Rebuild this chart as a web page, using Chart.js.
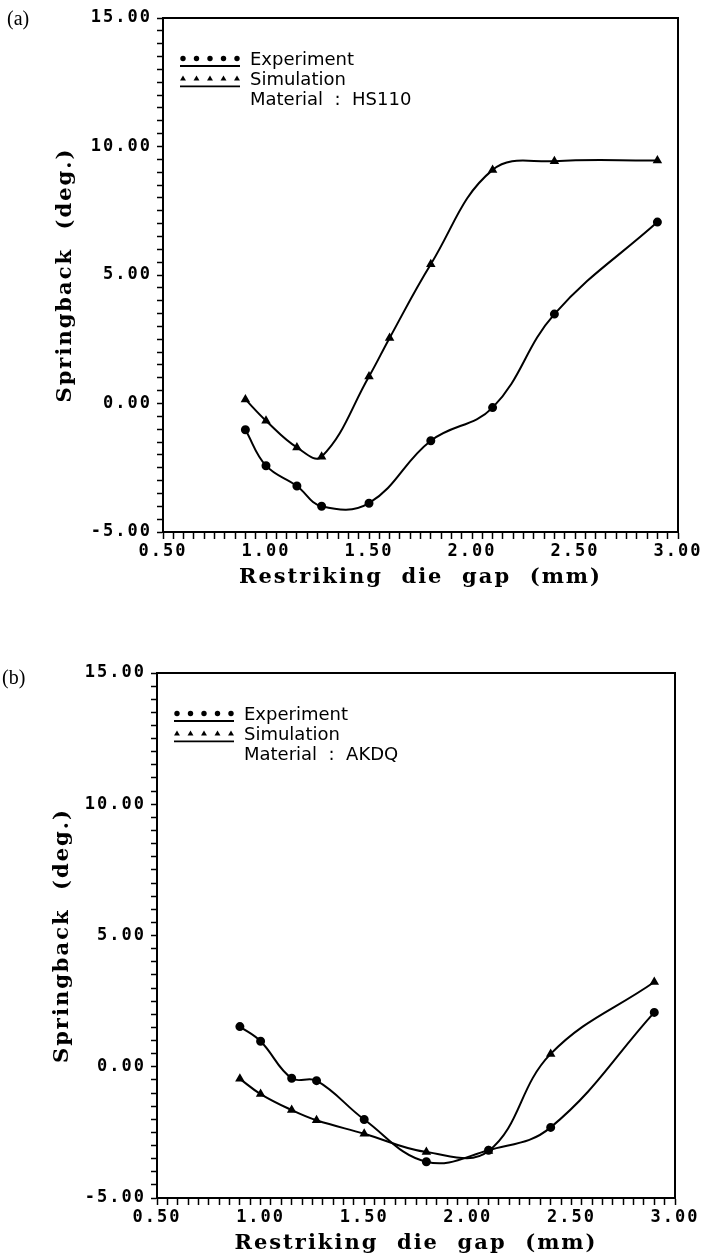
<!DOCTYPE html>
<html><head><meta charset="utf-8">
<script src="https://cdn.jsdelivr.net/npm/chart.js@4.4.1/dist/chart.umd.min.js"></script>
<style>
html,body{margin:0;padding:0;background:#fff;overflow:hidden;width:703px;height:1259px;}
#wrap{position:relative;width:703px;height:1259px;background:#fff;}
canvas{position:absolute;left:0;}
#ca{top:0;}
#cb{top:620px;}
.panel{position:absolute;font-family:"Liberation Serif",serif;font-size:20px;line-height:20px;color:#000;}
</style></head><body>
<div id="wrap">
<canvas id="ca" width="703" height="620"></canvas>
<canvas id="cb" width="703" height="639"></canvas>
<div class="panel" style="left:7px;top:8px">(a)</div>
<div class="panel" style="left:2px;top:667px">(b)</div>
</div>
<script>
// ---- data ----
const gapExpA = [0.9, 1.0, 1.15, 1.27, 1.5, 1.8, 2.1, 2.4, 2.9];
const springExpA = [-1.02, -2.42, -3.21, -4.0, -3.88, -1.45, -0.16, 3.48, 7.06];
const gapSimA = [0.9, 1.0, 1.15, 1.27, 1.5, 1.6, 1.8, 2.1, 2.4, 2.9];
const springSimA = [0.16, -0.67, -1.71, -2.07, 1.05, 2.55, 5.42, 9.09, 9.43, 9.46];

const gapB = [0.9, 1.0, 1.15, 1.27, 1.5, 1.8, 2.1, 2.4, 2.9];
const springExpB = [1.53, 0.97, -0.44, -0.53, -2.01, -3.62, -3.18, -2.31, 2.07];
const springSimB = [-0.46, -1.04, -1.65, -2.04, -2.55, -3.25, -3.21, 0.49, 3.23];

const seriesNames = ['Experiment', 'Simulation'];
const materialA = 'Material  :  HS110';
const materialB = 'Material  :  AKDQ';
const xTitle = 'Restriking  die  gap  (mm)';
const yTitle = 'Springback  (deg.)';
const xRange = [0.5, 3.0];
const yRange = [-5, 15];

function pts(xs, ys) { return xs.map((x, i) => ({x: x, y: ys[i]})); }

const framePlugin = {
  id: 'paperFrame',
  beforeDraw(chart) { chart.ctx.letterSpacing = '2px'; },
  afterDraw(chart, args, opts) {
    const ctx = chart.ctx, a = chart.chartArea;
    ctx.save();
    ctx.letterSpacing = '0px';
    ctx.strokeStyle = '#000';
    ctx.lineWidth = 2;
    ctx.strokeRect(a.left, a.top, a.right - a.left, a.bottom - a.top);
    // legend
    const lx = a.left + 20, step = 13.5;
    chart.data.datasets.forEach((ds, i) => {
      const my = a.top + 40.5 + i * 20.3;
      ctx.fillStyle = '#000';
      for (let k = 0; k < 5; k++) {
        const px = lx + k * step;
        ctx.beginPath();
        if (ds.pointStyle === 'triangle') {
          const r = 3.4;
          ctx.moveTo(px, my - r);
          ctx.lineTo(px + r * 0.866, my + r * 0.5);
          ctx.lineTo(px - r * 0.866, my + r * 0.5);
          ctx.closePath();
        } else {
          ctx.arc(px, my, 2.7, 0, Math.PI * 2);
        }
        ctx.fill();
      }
      ctx.beginPath();
      ctx.lineWidth = 1.8;
      ctx.moveTo(lx - 3, my + 7.5);
      ctx.lineTo(lx + 4 * step + 3, my + 7.5);
      ctx.stroke();
      ctx.font = '18px "DejaVu Sans"';
      ctx.textBaseline = 'alphabetic';
      ctx.textAlign = 'left';
      ctx.fillText(ds.label, a.left + 87, a.top + 47 + i * 20);
    });
    ctx.font = '18px "DejaVu Sans"';
    ctx.fillText(opts.note, a.left + 87, a.top + 87);
    ctx.restore();
    ctx.letterSpacing = '0px';
  }
};

function makeChart(id, dsExp, dsSim, note, box) {
  const tickFont = {family: '"DejaVu Sans Mono"', weight: 'bold', size: 17};
  const titleFont = {family: '"DejaVu Serif"', weight: 'bold', size: 21, lineHeight: 1};
  return new Chart(document.getElementById(id), {
    type: 'line',
    data: {
      datasets: [
        {label: seriesNames[0], data: dsExp, pointStyle: 'circle', pointRadius: 3.5,
         borderColor: '#000', backgroundColor: '#000', borderWidth: 2, tension: 0.4, fill: false},
        {label: seriesNames[1], data: dsSim, pointStyle: 'triangle', pointRadius: 3.5,
         borderColor: '#000', backgroundColor: '#000', borderWidth: 2, tension: 0.4, fill: false}
      ]
    },
    options: {
      responsive: false,
      animation: false,
      devicePixelRatio: 1,
      layout: {padding: {left: 0, right: box.right, top: box.top, bottom: 0}},
      plugins: {legend: {display: false}, tooltip: {enabled: false}, paperFrame: {note: note}},
      scales: {
        x: {
          type: 'linear', min: xRange[0], max: xRange[1],
          afterFit: s => { s.height = box.xh; },
          grid: {display: true, drawOnChartArea: false, drawTicks: true, tickLength: 7, tickWidth: 1.5, tickColor: '#000'},
          border: {display: true, color: '#000', width: 2},
          ticks: {stepSize: 0.05, maxTicksLimit: 100, autoSkip: false, maxRotation: 0, minRotation: 0,
                  padding: 2, color: '#000', font: tickFont,
                  callback: v => Math.abs(v * 2 - Math.round(v * 2)) < 1e-6 ? Number(v).toFixed(2) : ''},
          title: {display: true, text: xTitle, color: '#000', font: titleFont, padding: {top: 0, bottom: box.xtp}}
        },
        y: {
          type: 'linear', min: yRange[0], max: yRange[1],
          afterFit: s => { s.width = box.left; },
          grid: {display: true, drawOnChartArea: false, drawTicks: true, tickLength: 6, tickWidth: 1.5, tickColor: '#000'},
          border: {display: true, color: '#000', width: 2},
          ticks: {stepSize: 0.5, maxTicksLimit: 100, autoSkip: false, padding: 5, color: '#000', font: tickFont,
                  callback: v => Math.abs(v / 5 - Math.round(v / 5)) < 1e-6 ? Number(v).toFixed(2) : ''},
          title: {display: true, text: yTitle, color: '#000', font: titleFont, padding: {top: box.ytp, bottom: 0}}
        }
      }
    },
    plugins: [framePlugin]
  });
}

makeChart('ca', pts(gapExpA, springExpA), pts(gapSimA, springSimA), materialA,
  {left: 163, right: 25, top: 18, xh: 88, xtp: 31.5, ytp: 55.5});
makeChart('cb', pts(gapB, springExpB), pts(gapB, springSimB), materialB,
  {left: 157, right: 28, top: 53, xh: 61, xtp: 4.5, ytp: 52});
</script>
</body></html>
